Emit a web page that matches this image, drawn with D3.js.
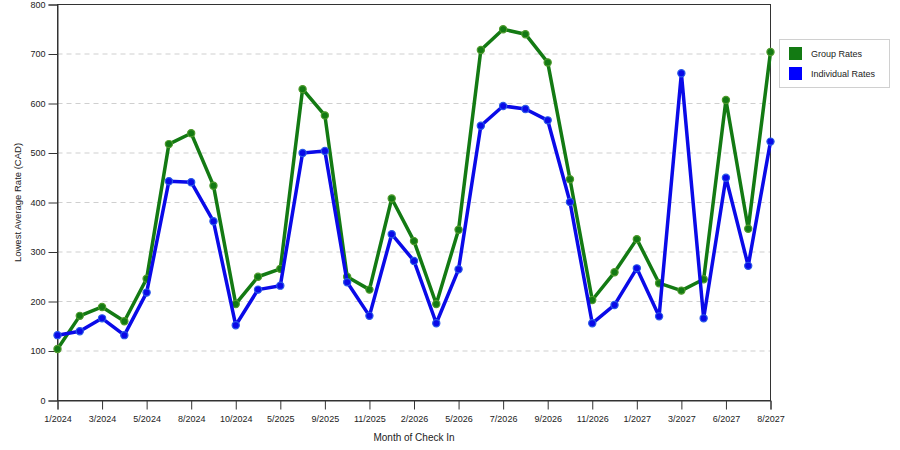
<!DOCTYPE html>
<html>
<head>
<meta charset="utf-8">
<script src="https://cdn.jsdelivr.net/npm/d3@7"></script>
<style>
  body { margin: 0; background: #fff; }
  text { font-family: "Liberation Sans", Arial, sans-serif; fill: #222; }
</style>
</head>
<body>
<div id="chart"></div>
<script>
const months = [
  "1/2024", "2/2024", "3/2024", "4/2024", "5/2024", "7/2024", "8/2024", "9/2024",
  "10/2024", "4/2025", "5/2025", "8/2025", "9/2025", "10/2025", "11/2025", "1/2026",
  "2/2026", "4/2026", "5/2026", "6/2026", "7/2026", "8/2026", "9/2026", "10/2026",
  "11/2026", "12/2026", "1/2027", "2/2027", "3/2027", "5/2027", "6/2027", "7/2027", "8/2027"
];
const groupRates = [
  104, 171, 189, 160, 246, 518, 540, 434, 195, 250, 266, 629, 576, 250, 224, 408,
  322, 195, 345, 708, 750, 740, 683, 447, 203, 259, 326, 237, 222, 245, 607, 347, 704
];
const individualRates = [
  132, 140, 166, 132, 218, 443, 441, 362, 152, 224, 232, 500, 504, 239, 171, 336,
  282, 156, 265, 555, 595, 589, 566, 401, 156, 193, 267, 170, 661, 166, 450, 272, 523
];
const yTicks = [0, 100, 200, 300, 400, 500, 600, 700, 800];
const seriesNames = ["Group Rates", "Individual Rates"];

const width = 900, height = 450;
const margin = { left: 57.5, right: 129.5, top: 4.5, bottom: 49.5 };
const green = "#137a13", blue = "#0a0ae8";

const svg = d3.select("#chart").append("svg")
  .attr("width", width)
  .attr("height", height);

const x = d3.scalePoint()
  .domain(months)
  .range([margin.left, width - margin.right]);

const y = d3.scaleLinear()
  .domain([0, 800])
  .range([height - margin.bottom, margin.top]);

// grid
svg.append("g")
  .selectAll("line")
  .data(yTicks.filter(d => d > 0 && d < 800))
  .enter().append("line")
  .attr("x1", margin.left)
  .attr("x2", width - margin.right)
  .attr("y1", d => y(d))
  .attr("y2", d => y(d))
  .attr("stroke", "#cfcfcf")
  .attr("stroke-dasharray", "5,4");

// frame
svg.append("rect")
  .attr("x", margin.left)
  .attr("y", margin.top)
  .attr("width", width - margin.left - margin.right)
  .attr("height", height - margin.top - margin.bottom)
  .attr("fill", "none")
  .attr("stroke", "#333");

// axes
const xAxis = svg.append("g")
  .attr("transform", `translate(0,${height - margin.bottom})`)
  .call(d3.axisBottom(x)
    .tickValues(months.filter((d, i) => i % 2 === 0))
    .tickSize(9)
    .tickPadding(6));

const yAxis = svg.append("g")
  .attr("transform", `translate(${margin.left},0)`)
  .call(d3.axisLeft(y)
    .tickValues(yTicks)
    .tickSize(9)
    .tickPadding(3));

[xAxis, yAxis].forEach(g => {
  g.select(".domain").attr("stroke", "#333");
  g.selectAll(".tick line").attr("stroke", "#333");
  g.selectAll(".tick text")
    .attr("font-family", "Liberation Sans, Arial, sans-serif")
    .attr("font-size", 9)
    .attr("fill", "#222");
});

svg.append("text")
  .attr("x", (margin.left + width - margin.right) / 2)
  .attr("y", 441)
  .attr("text-anchor", "middle")
  .attr("font-size", 10)
  .text("Month of Check In");

svg.append("text")
  .attr("transform", `translate(21,${(margin.top + height - margin.bottom) / 2}) rotate(-90)`)
  .attr("text-anchor", "middle")
  .attr("font-size", 9.5)
  .text("Lowest Average Rate (CAD)");

// lines
const line = d3.line()
  .x((d, i) => x(months[i]))
  .y(d => y(d));

const series = [
  { name: seriesNames[0], values: groupRates, color: green, marker: "#4e9a2c" },
  { name: seriesNames[1], values: individualRates, color: blue, marker: "#2a5ae8" }
];

series.forEach(s => {
  svg.append("path")
    .datum(s.values)
    .attr("fill", "none")
    .attr("stroke", s.color)
    .attr("stroke-width", 3.5)
    .attr("stroke-linejoin", "round")
    .attr("d", line);

  svg.append("g")
    .selectAll("circle")
    .data(s.values)
    .enter().append("circle")
    .attr("cx", (d, i) => x(months[i]))
    .attr("cy", d => y(d))
    .attr("r", 3.6)
    .attr("fill", s.color)
    .attr("stroke", s.marker)
    .attr("stroke-width", 1.2);
});

// legend
const legend = svg.append("g");
legend.append("rect")
  .attr("x", 779.5)
  .attr("y", 39.5)
  .attr("width", 110)
  .attr("height", 48)
  .attr("fill", "#fff")
  .attr("stroke", "#d0d0d0");

const item = legend.selectAll(".item")
  .data(series)
  .enter().append("g")
  .attr("transform", (d, i) => `translate(789,${47 + i * 20})`);

item.append("rect")
  .attr("width", 13)
  .attr("height", 13)
  .attr("fill", d => d.color === green ? "#137a13" : "#0000ff");

item.append("text")
  .attr("x", 22)
  .attr("y", 10)
  .attr("font-size", 9)
  .text(d => d.name);
</script>
</body>
</html>
